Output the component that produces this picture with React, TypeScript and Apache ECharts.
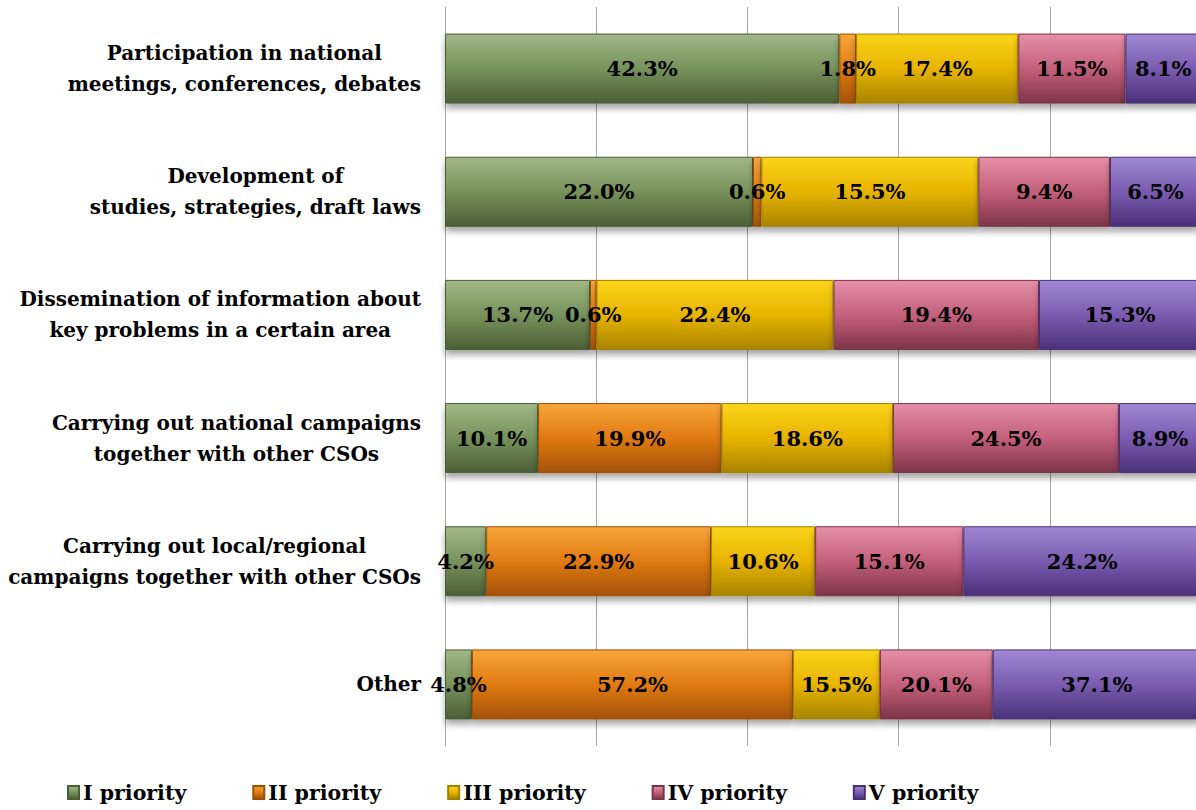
import React, { useEffect, useRef } from "react";
import * as echarts from "echarts";

const categories = [
  "Participation in national\nmeetings, conferences, debates",
  "Development of\nstudies, strategies, draft laws",
  "Dissemination of information about\nkey problems in a certain area",
  "Carrying out national campaigns\ntogether with other CSOs",
  "Carrying out local/regional\ncampaigns together with other CSOs",
  "Other",
];

const seriesNames = ["I priority", "II priority", "III priority", "IV priority", "V priority"];

// Label values (%) per priority, in category order
const priority1 = [42.3, 22.0, 13.7, 10.1, 4.2, 4.8];
const priority2 = [1.8, 0.6, 0.6, 19.9, 22.9, 57.2];
const priority3 = [17.4, 15.5, 22.4, 18.6, 10.6, 15.5];
const priority4 = [11.5, 9.4, 19.4, 24.5, 15.1, 20.1];
const priority5 = [8.1, 6.5, 15.3, 8.9, 24.2, 37.1];

const xTicks = [0, 20, 40, 60, 80, 100];

const FONT = "DejaVu Serif";

const gradients = [
  ["#a0b887", "#77925c", "#4b5f35"],
  ["#f8a63a", "#e07a12", "#a45206"],
  ["#fbd41a", "#e8b400", "#a88400"],
  ["#e490a8", "#c4607c", "#7e3448"],
  ["#a088d4", "#7a5cb0", "#4a3078"],
];
const borders = ["#4a5e34", "#9a5006", "#a08000", "#7a3448", "#4a3078"];

export default function App() {
  const ref = useRef<HTMLDivElement>(null);
  useEffect(() => {
    if (!ref.current) return;
    const chart = echarts.init(ref.current, null, { renderer: "svg" });
    const all = [priority1, priority2, priority3, priority4, priority5];
    const rowSums = categories.map((_, i) => all.reduce((s, arr) => s + arr[i], 0));
    const series = all.map((arr, si) => ({
      name: seriesNames[si],
      type: "bar",
      stack: "total",
      barWidth: 70,
      data: arr.map((v, i) => (v / rowSums[i]) * 100),
      itemStyle: {
        color: new echarts.graphic.LinearGradient(0, 0, 0, 1, [
          { offset: 0, color: gradients[si][0] },
          { offset: 0.5, color: gradients[si][1] },
          { offset: 1, color: gradients[si][2] },
        ]),
        borderColor: borders[si],
        borderWidth: 1,
        shadowColor: "rgba(0,0,0,0.35)",
        shadowBlur: 6,
        shadowOffsetY: 5,
      },
      label: {
        show: true,
        position: "inside",
        formatter: (p: any) => arr[p.dataIndex].toFixed(1) + "%",
        fontFamily: FONT,
        fontWeight: "bold",
        fontSize: 21,
        color: "#000",
      },
    }));
    chart.setOption({
      animation: false,
      backgroundColor: "#fff",
      grid: { left: 445, right: 0, top: 7, bottom: 64, containLabel: false },
      legend: {
        data: seriesNames,
        left: 62,
        top: 777,
        itemGap: 66,
        itemWidth: 11,
        itemHeight: 13,
        icon: "rect",
        textStyle: { fontFamily: FONT, fontWeight: "bold", fontSize: 20.5, color: "#000", padding: [0, 0, 0, -1] },
      },
      xAxis: {
        type: "value",
        min: xTicks[0],
        max: xTicks[xTicks.length - 1],
        interval: xTicks[1] - xTicks[0],
        axisLabel: { show: false },
        axisLine: { show: false },
        axisTick: { show: false },
        splitLine: { show: true, lineStyle: { color: "#a6a6a6", width: 1 } },
      },
      yAxis: {
        type: "category",
        inverse: true,
        data: categories,
        axisLine: { show: true, lineStyle: { color: "#a6a6a6", width: 1 } },
        axisTick: { show: false },
        axisLabel: {
          margin: 24,
          align: "right",
          formatter: (v: string) => v.split("\n").map((l) => `{c|${l}}`).join("\n"),
          rich: {
            c: {
              align: "center",
              fontFamily: FONT,
              fontWeight: "bold",
              fontSize: 20,
              lineHeight: 31,
              color: "#000",
            },
          },
        },
      },
      series,
    });
    return () => chart.dispose();
  }, []);
  return (
    <div style={{ position: "fixed", left: 0, top: 0, width: 1196, height: 810, overflow: "hidden" }}>
      <div ref={ref} style={{ width: 1201, height: 810 }} />
    </div>
  );
}
